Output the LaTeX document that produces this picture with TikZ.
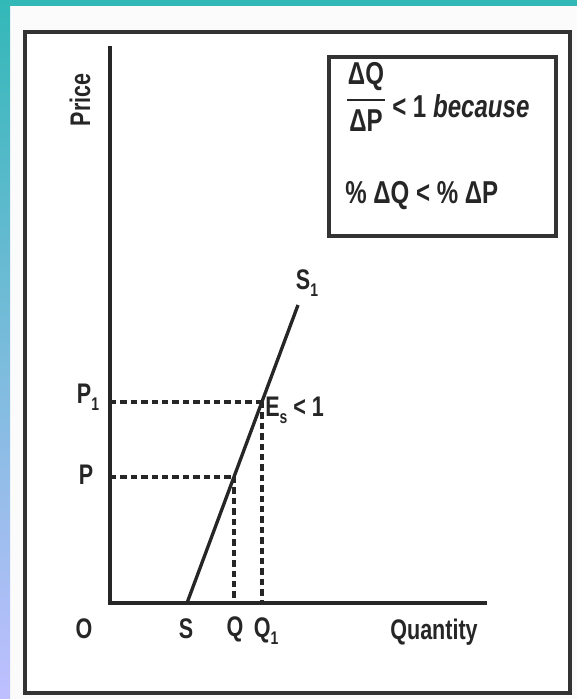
\documentclass[tikz,border=0pt]{standalone}
\usepackage{fontspec}
\setmainfont{Liberation Sans}
\newcommand{\mysub}[1]{\raisebox{-0.45ex}{\fontsize{11}{11}\selectfont #1}}
\newcommand{\tallt}[1]{\scalebox{0.95}[1.25]{#1}}
\begin{document}
\begin{tikzpicture}[x=0.75pt,y=-0.75pt,
  axis/.style={line width=2.6pt,line cap=rect,draw=black!85},
  frame/.style={line width=2.8pt,draw=black!80},
  curve/.style={line width=2.5pt,draw=black!85},
  guide/.style={line width=2.6pt,draw=black!85,dash pattern=on 4.8pt off 3pt},
  lbl/.style={inner sep=0pt,font=\fontsize{17}{20}\selectfont\bfseries,text=black!85},
  boxtxt/.style={inner sep=0pt,font=\fontsize{19}{22}\selectfont\bfseries,text=black!85}]
\useasboundingbox (0,0) rectangle (577,699);
\fill[white!97!gray] (0,0) rectangle (577,699);
\fill[white] (25,32) rectangle (570,693);
\fill[teal!70!cyan!80!white] (0,0) rectangle (577,6);
\shade[top color=teal!70!cyan!80!white, middle color=blue!40!cyan!55!white, bottom color=blue!25!white] (0,0) rectangle (10,699);
% frame
\draw[frame] (25,32) rectangle (570,693);
% axes
\coordinate (O) at (110,603);
\coordinate (ytop) at (110,48);
\coordinate (xend) at (485,603);
\draw[axis] (ytop) -- (O) -- (xend);
% supply curve
\coordinate (S) at (187,603);
\coordinate (Stop) at (298,305);
\draw[curve] (S) -- (Stop);
\coordinate (E) at (262,402);
\coordinate (A) at (234,477);
\coordinate (P1y) at (110,402);
\coordinate (Py) at (110,477);
\coordinate (Qx) at (234,603);
\coordinate (Q1x) at (262,603);
\draw[guide] (P1y) -- (E);
\draw[guide] (Py) -- (A);
\draw[guide] (A) -- (Qx);
\draw[guide] (E) -- (Q1x);
% labels
\node[lbl,rotate=90] (price) at (80,100) {\tallt{Price}};
\node[lbl] (lP1) at (88,397) {\tallt{P\mysub{1}}};
\node[lbl] (lP) at (86,475) {\tallt{P}};
\node[lbl] (lO) at (84,629) {\tallt{O}};
\node[lbl] (lS) at (186,629) {\tallt{S}};
\node[lbl] (lQ) at (235,629) {\tallt{Q}};
\node[lbl] (lQ1) at (266,631) {\tallt{Q\mysub{1}}};
\node[lbl] (lQty) at (434,632) {\tallt{Quantity}};
\node[lbl] (lS1) at (307,283) {\tallt{S\mysub{1}}};
\node[lbl,anchor=west] (lE) at (265,410) {\tallt{E\mysub{s} < 1}};
% box
\draw[frame] (329,57) rectangle (556,236);
\node[boxtxt] (num) at (366,77) {\tallt{ΔQ}};
\node[boxtxt] (den) at (366,121) {\tallt{ΔP}};
\draw[line width=1.8pt,draw=black!85] (347,100) -- (385,100);
\node[boxtxt,anchor=west] (because) at (392,106) {\tallt{< 1 \textit{because}}};
\node[boxtxt,anchor=west] (pct) at (345,196) {\tallt{\% ΔQ < \% ΔP}};
\end{tikzpicture}
\end{document}
